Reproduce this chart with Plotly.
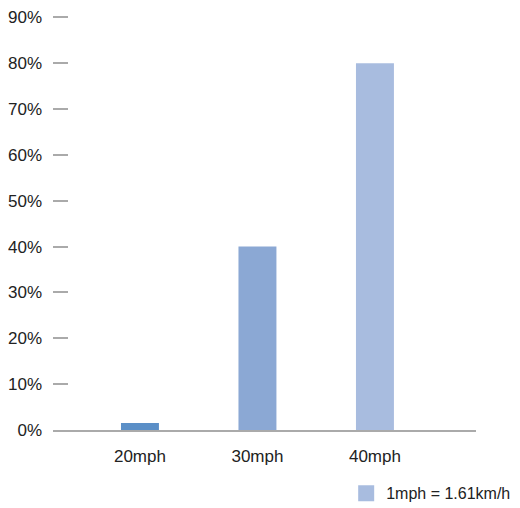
import plotly.graph_objects as go

categories = ["20mph", "30mph", "40mph"]
values = [1.5, 40, 80]
bar_colors = ["#5b8fc7", "#8ba8d4", "#a8bcdf"]
legend_label = "1mph = 1.61km/h"
tick_vals = [0, 10, 20, 30, 40, 50, 60, 70, 80, 90]
tick_text = [f"{v}%" for v in tick_vals]

FONT = "Liberation Sans, Arial, sans-serif"

fig = go.Figure()
fig.add_trace(go.Bar(
    x=categories, y=values, marker_color=bar_colors, marker_line_width=0,
    width=0.323, showlegend=False, hoverinfo="x+y",
))
fig.add_trace(go.Scatter(
    x=[None], y=[None], mode="markers", name=legend_label,
    marker=dict(symbol="square", size=19, color=bar_colors[2]),
    showlegend=True,
))

fig.update_layout(
    width=512, height=500,
    margin=dict(l=45, r=44, t=8, b=78, autoexpand=False),
    paper_bgcolor="white", plot_bgcolor="white",
    font=dict(family=FONT, size=17, color="#222222"),
    xaxis=dict(
        type="category", range=[-0.74, 2.86], showgrid=False,
        showline=True, linecolor="#aaaaaa", linewidth=2, ticks="",
        tickfont=dict(size=17), zeroline=False, ticklabelstandoff=10,
    ),
    yaxis=dict(
        range=[0, 90.3], tickvals=tick_vals, ticktext=tick_text,
        showgrid=False, showline=False, zeroline=False,
        ticks="inside", ticklen=15, tickwidth=2, tickcolor="#aaaaaa",
        ticklabelstandoff=10, tickfont=dict(size=17),
        ticklabeloverflow="allow",
    ),
    legend=dict(
        x=1.095, xanchor="right", y=-0.153, yanchor="middle",
        font=dict(size=16), bgcolor="rgba(0,0,0,0)", itemsizing="trace",
        borderwidth=0,
    ),
    showlegend=True,
)

fig.write_html("out.html")
